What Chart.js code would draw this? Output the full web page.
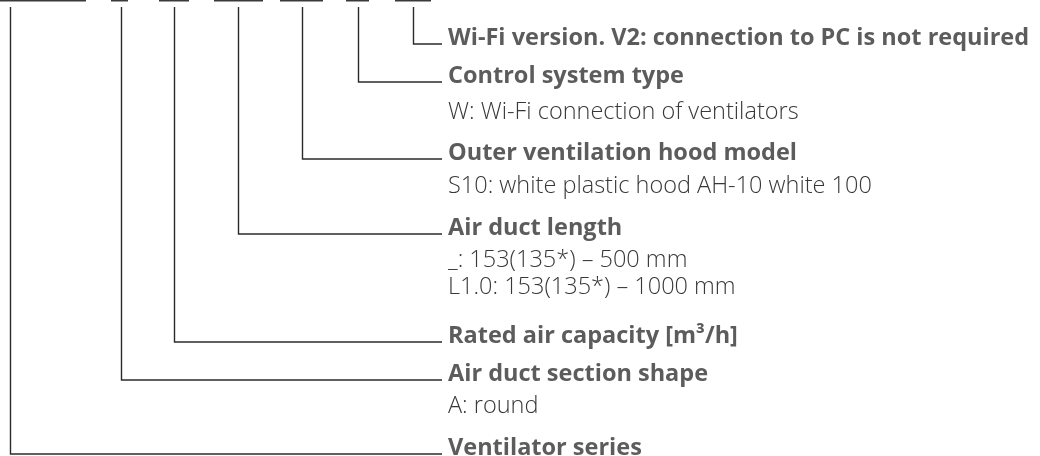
<!DOCTYPE html>
<html>
<head>
<meta charset="utf-8">
<script src="https://cdn.jsdelivr.net/npm/chart.js@4.4.1/dist/chart.umd.min.js"></script>
<style>
html,body{margin:0;padding:0;background:#fff;}
#wrap{width:1040px;height:456px;}
</style>
</head>
<body>
<div id="wrap"><canvas id="c" width="1040" height="456"></canvas></div>
<script>
// Product code underline segments (start, end) at top of the diagram
const codeStart = [0, 111, 159, 214, 280, 346, 395];
const codeEnd   = [86, 128, 189, 263, 323, 369, 431];
// Bracket stems, one per field (left to right)
const stemX = [10, 121, 174, 238, 302, 358, 413];
// Field titles (bold), from top row to bottom row
const titles = [
  "Wi-Fi version. V2: connection to PC is not required",
  "Control system type",
  "Outer ventilation hood model",
  "Air duct length",
  "Rated air capacity [m³/h]",
  "Air duct section shape",
  "Ventilator series"
];
const titleRow = [44, 82, 159, 234, 342, 380, 454];
const titleStem = [6, 5, 4, 3, 2, 1, 0]; // index into stemX
// Option descriptions (regular)
const notes = [
  "W: Wi-Fi connection of ventilators",
  "S10: white plastic hood AH-10 white 100",
  "_: 153(135*) – 500 mm",
  "L1.0: 153(135*) – 1000 mm",
  "A: round"
];
const noteRow = [119, 193, 267, 294, 413];
const stemTop = 7;
const leaderEnd = 442;
const textX = 448;

const datasets = [];
for (let i = 0; i < codeStart.length; i++) {
  datasets.push({
    data: [{x: codeStart[i], y: 0.5}, {x: codeEnd[i], y: 0.5}],
    showLine: true, borderColor: '#3a3a3a', borderWidth: 2, pointRadius: 0, fill: false
  });
}
for (let i = 0; i < titles.length; i++) {
  const sx = stemX[titleStem[i]] + 0.5;
  datasets.push({
    data: [{x: sx, y: stemTop}, {x: sx, y: titleRow[i]}, {x: leaderEnd, y: titleRow[i]}],
    showLine: true, borderColor: '#2b2b2b', borderWidth: 1.4, pointRadius: 0, fill: false,
    borderJoinStyle: 'miter', borderCapStyle: 'butt', tension: 0
  });
}

const textPlugin = {
  id: 'labels',
  afterDatasetsDraw(chart) {
    const ctx = chart.ctx, xs = chart.scales.x, ys = chart.scales.y;
    ctx.save();
    ctx.textBaseline = 'alphabetic';
    ctx.textAlign = 'left';
    ctx.fillStyle = '#5c5c5c';
    ctx.font = 'bold 23.5px "Open Sans"';
    titles.forEach((t, i) => {
      ctx.fillText(t, xs.getPixelForValue(textX), ys.getPixelForValue(titleRow[i] + 1));
    });
    ctx.fillStyle = '#383838';
    ctx.font = '300 23.5px "Open Sans"';
    notes.forEach((t, i) => {
      ctx.fillText(t, xs.getPixelForValue(textX), ys.getPixelForValue(noteRow[i]));
    });
    ctx.restore();
  }
};

new Chart(document.getElementById('c'), {
  type: 'scatter',
  data: {datasets},
  options: {
    responsive: false,
    devicePixelRatio: 1,
    animation: false,
    events: [],
    layout: {padding: 0},
    plugins: {legend: {display: false}, tooltip: {enabled: false}},
    scales: {
      x: {type: 'linear', min: 0, max: 1040, display: false},
      y: {type: 'linear', min: 0, max: 456, reverse: true, display: false}
    }
  },
  plugins: [textPlugin]
});
</script>
</body>
</html>
